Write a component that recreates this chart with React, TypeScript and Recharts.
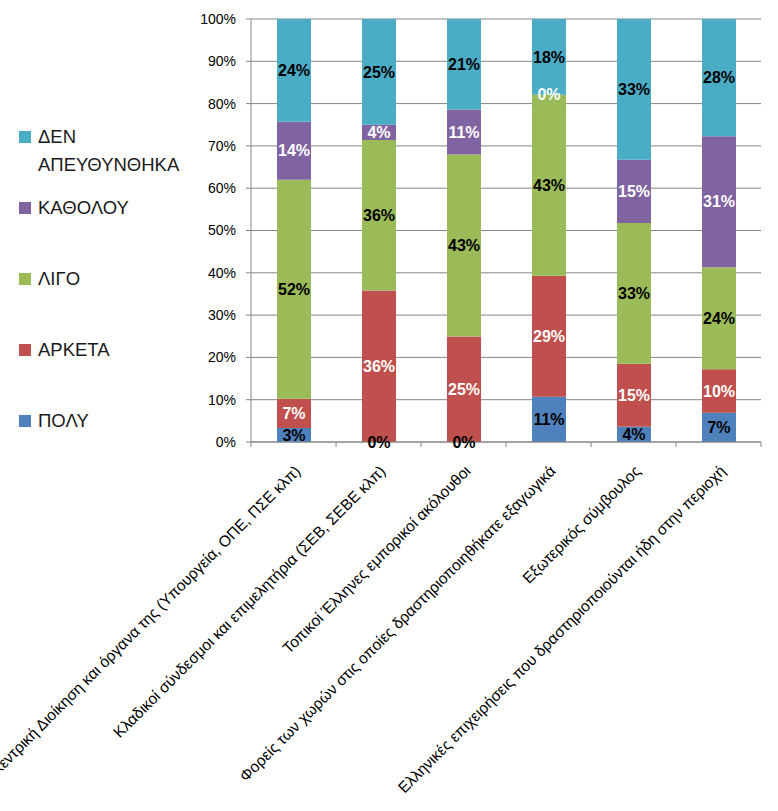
import { Bar, BarChart, CartesianGrid, LabelList, Legend, XAxis, YAxis } from 'recharts';

const categories = [
  'Κεντρική Διοίκηση και όργανα της (Υπουργεία, ΟΠΕ, ΠΣΕ κλπ)',
  'Κλαδικοί σύνδεσμοι και επιμελητήρια (ΣΕΒ, ΣΕΒΕ κλπ)',
  'Τοπικοί Έλληνες εμπορικοί ακόλουθοι',
  'Φορείς των χωρών στις οποίες δραστηριοποιηθήκατε εξαγωγικά',
  'Εξωτερικός σύμβουλος',
  'Ελληνικές επιχειρήσεις που δραστηριοποιούνται ήδη στην περιοχή',
];

const poly = [3.3, 0, 0, 10.7, 3.6, 6.9];
const arketa = [6.9, 35.8, 24.9, 28.6, 14.9, 10.3];
const ligo = [51.8, 35.6, 43.0, 42.8, 33.3, 24.1];
const katholou = [13.7, 3.6, 10.6, 0, 14.9, 31.0];
const denApeuth = [24.3, 25.0, 21.4, 17.9, 33.3, 27.7];

const yTicks = [0, 0.1, 0.2, 0.3, 0.4, 0.5, 0.6, 0.7, 0.8, 0.9, 1];

const series = [
  { key: 'poly', name: 'ΠΟΛΥ', values: poly, color: '#4F81BD', labelColor: '#000000' },
  { key: 'arketa', name: 'ΑΡΚΕΤΑ', values: arketa, color: '#C0504D', labelColor: '#ffffff' },
  { key: 'ligo', name: 'ΛΙΓΟ', values: ligo, color: '#9BBB59', labelColor: '#000000' },
  { key: 'katholou', name: 'ΚΑΘΟΛΟΥ', values: katholou, color: '#8064A2', labelColor: '#ffffff' },
  { key: 'den', name: 'ΔΕΝ ΑΠΕΥΘΥΝΘΗΚΑ', values: denApeuth, color: '#4BACC6', labelColor: '#000000' },
];

const data = categories.map((name, i) => {
  const row: Record<string, string | number> = { name };
  series.forEach((s) => {
    row[s.key] = s.values[i];
  });
  return row;
});

const FONT = '"Liberation Sans", Arial, sans-serif';
const GRID = '#868686';

function CategoryTick(props: any) {
  const { x, y, payload, index, visibleTicksCount } = props;
  const half = payload?.offset ?? 42.5;
  const isLast = index === (visibleTicksCount ?? categories.length) - 1;
  const ax = x + 8;
  const ay = y + 30;
  return (
    <g>
      <line x1={x - half} y1={y} x2={x - half} y2={y + 5} stroke={GRID} />
      {isLast && <line x1={x + half} y1={y} x2={x + half} y2={y + 5} stroke={GRID} />}
      <text
        x={ax}
        y={ay}
        textAnchor="end"
        transform={`rotate(-45, ${ax}, ${ay})`}
        fontSize={15.5}
        fontFamily={FONT}
        fill="#000"
      >
        {payload.value}
      </text>
    </g>
  );
}

// legend in the order of the stack, top series first
function SideLegend() {
  const items = [...series].reverse();
  return (
    <div style={{ fontFamily: FONT }}>
      {items.map((s) => (
        <div key={s.key} style={{ display: 'flex', alignItems: 'flex-start', height: 71 }}>
          <span
            style={{
              width: 12,
              height: 12,
              marginTop: 8,
              marginRight: 7,
              background: s.color,
              flex: 'none',
            }}
          />
          <span style={{ fontSize: 18.5, lineHeight: '28px', color: '#1a1a1a', width: 160 }}>
            {s.name}
          </span>
        </div>
      ))}
    </div>
  );
}

export default function App() {
  return (
    <div style={{ position: 'absolute', left: 0, top: 0, background: '#fff' }}>
      <BarChart
        width={778}
        height={811}
        data={data}
        stackOffset="expand"
        margin={{ top: 19, right: 17, bottom: 0, left: 0 }}
        barSize={34}
      >
        <CartesianGrid vertical={false} stroke={GRID} />
        <XAxis
          dataKey="name"
          height={369}
          interval={0}
          tickLine={false}
          tickSize={0}
          tickMargin={0}
          axisLine={{ stroke: GRID }}
          tick={<CategoryTick />}
        />
        <YAxis
          width={251}
          domain={[0, 1]}
          ticks={yTicks}
          tickFormatter={(v: number) => `${Math.round(v * 100)}%`}
          tickSize={5}
          tickMargin={10}
          tickLine={{ stroke: GRID }}
          axisLine={{ stroke: GRID }}
          tick={{ fontSize: 14, fontFamily: FONT, fill: '#000' }}
        />
        <Legend
          layout="vertical"
          align="center"
          verticalAlign="middle"
          wrapperStyle={{ left: 19, top: 123, width: 220 }}
          content={<SideLegend />}
        />
        {series.map((s) => (
          <Bar
            key={s.key}
            dataKey={s.key}
            name={s.name}
            stackId="a"
            fill={s.color}
            minPointSize={0.01}
            isAnimationActive={false}
          >
            <LabelList
              dataKey={s.key}
              position="center"
              formatter={(v: any) => `${Math.round(Number(v))}%`}
              fill={s.labelColor}
              fontSize={16}
              fontWeight="bold"
              fontFamily={FONT}
            />
          </Bar>
        ))}
      </BarChart>
    </div>
  );
}
